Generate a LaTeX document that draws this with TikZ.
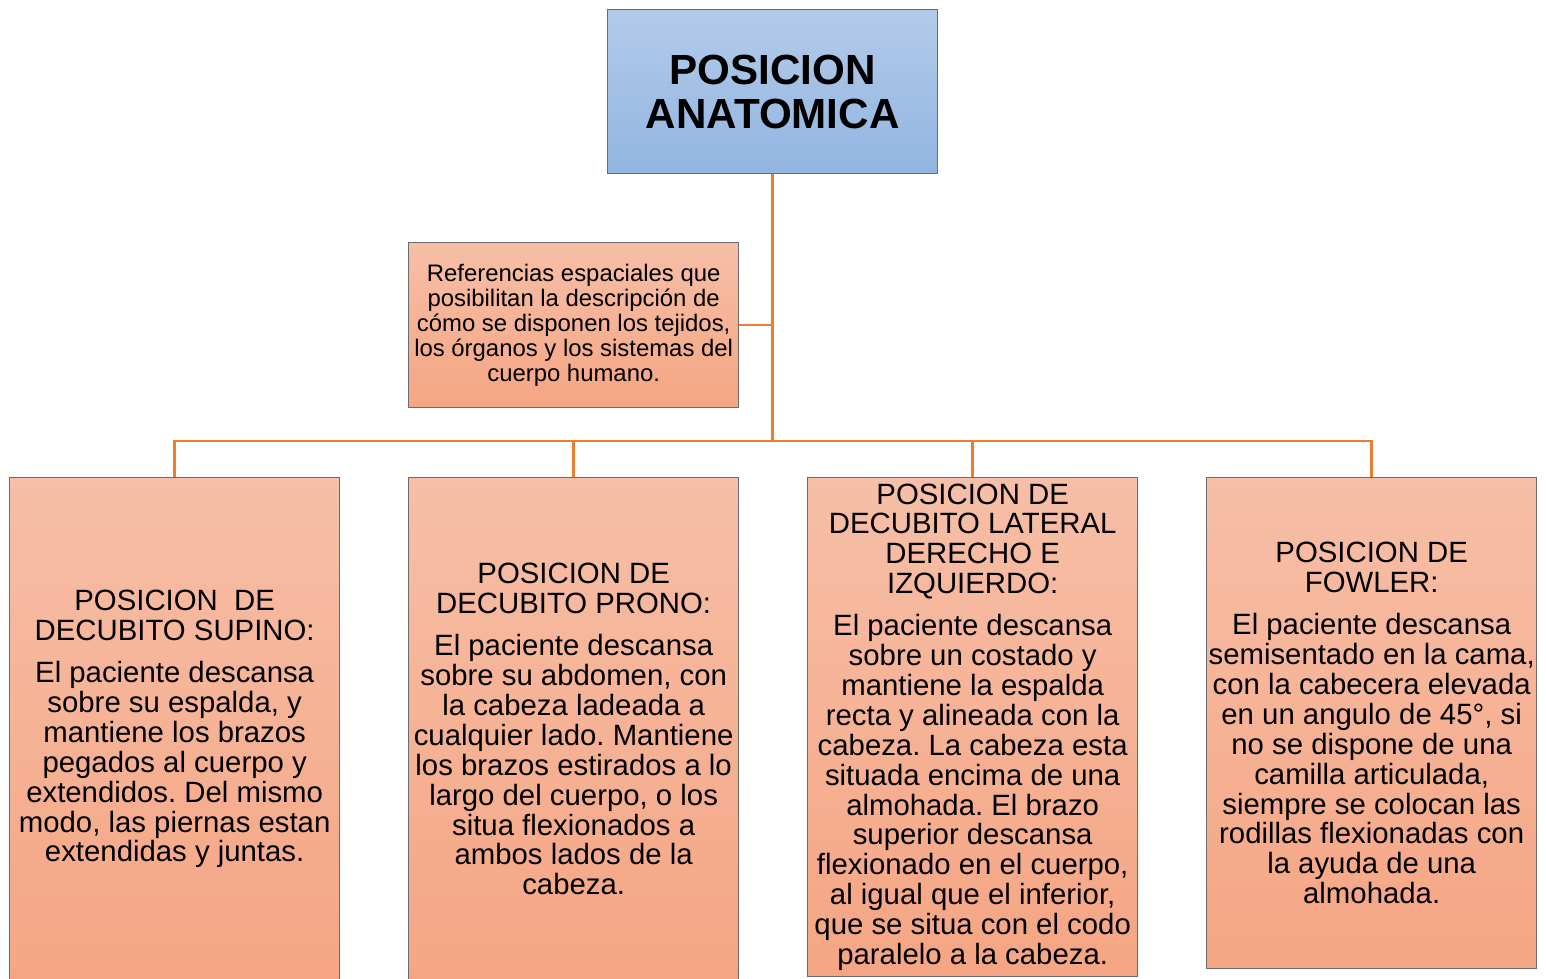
\documentclass[tikz,border=0pt]{standalone}
\usepackage{fontspec}
\setmainfont{Liberation Sans}
\usepackage{tikz}
\frenchspacing
\definecolor{azularriba}{HTML}{B3CBE9}
\definecolor{azulabajo}{HTML}{92B5E1}
\definecolor{salmonarriba}{HTML}{F6BFA7}
\definecolor{salmonabajo}{HTML}{F5A583}
\definecolor{naranja}{HTML}{ED7D31}
\tikzstyle{caja} = [draw=gray!85!black, line width=0.8pt,
                    rectangle, align=center, inner xsep=1pt,
                    minimum width=6.6cm, anchor=north west]
\tikzstyle{raizcaja} = [caja, top color=azularriba, bottom color=azulabajo,
                    font=\bfseries\fontsize{24}{25}\selectfont]
\tikzstyle{hoja} = [caja, top color=salmonarriba, bottom color=salmonabajo,
                    font=\fontsize{16.7}{17}\selectfont]
\tikzstyle{conector} = [draw=naranja, line width=1.5pt]

\begin{document}
\begin{tikzpicture}[x=0.02cm, y=-0.02cm]%
  \useasboundingbox (0,0) rectangle (1546,979);
  \node [raizcaja, minimum height=3.28cm] (raiz) at (607,9)
    {POSICION\\ANATOMICA};
  \node [hoja, minimum height=3.3cm,
         font=\fontsize{13.6}{14.2}\selectfont] (defin) at (408,242)
    {Referencias espaciales que\\posibilitan la descripción de\\
     cómo se disponen los tejidos,\\los órganos y los sistemas del\\
     cuerpo humano.};
  \node [hoja, minimum height=10.06cm] (supino) at (9,477)
    {POSICION\ \ DE\\DECUBITO SUPINO:\\[7pt]
     El paciente descansa\\sobre su espalda, y\\mantiene los brazos\\
     pegados al cuerpo y\\extendidos. Del mismo\\modo, las piernas estan\\
     extendidas y juntas.};
  \node [hoja, minimum height=10.06cm] (prono) at (408,477)
    {POSICION DE\\DECUBITO PRONO:\\[7pt]
     El paciente descansa\\sobre su abdomen, con\\la cabeza ladeada a\\
     cualquier lado. Mantiene\\los brazos estirados a lo\\
     largo del cuerpo, o los\\situa flexionados a\\ambos lados de la\\cabeza.};
  \node [hoja, minimum height=9.9cm] (lateral) at (807,477)
    {POSICION DE\\DECUBITO LATERAL\\DERECHO E\\IZQUIERDO:\\[7pt]
     El paciente descansa\\sobre un costado y\\mantiene la espalda\\
     recta y alineada con la\\cabeza. La cabeza esta\\situada encima de una\\
     almohada. El brazo\\superior descansa\\flexionado en el cuerpo,\\
     al igual que el inferior,\\que se situa con el codo\\paralelo a la cabeza.};
  \node [hoja, minimum height=9.82cm] (fowler) at (1206,477)
    {POSICION DE\\FOWLER:\\[7pt]
     El paciente descansa\\semisentado en la cama,\\con la cabecera elevada\\
     en un angulo de 45°, si\\no se dispone de una\\camilla articulada,\\
     siempre se colocan las\\rodillas flexionadas con\\la ayuda de una\\almohada.};
  % ramas
  \coordinate (bus) at (raiz.south |- 0,441);
  \draw [conector] (raiz.south) -- (bus);
  \draw [conector] (defin.east) -- (defin.east -| raiz.south);
  \draw [conector] (bus) -| (supino.north);
  \draw [conector] (bus) -| (prono.north);
  \draw [conector] (bus) -| (lateral.north);
  \draw [conector] (bus) -| (fowler.north);
\end{tikzpicture}
\end{document}
